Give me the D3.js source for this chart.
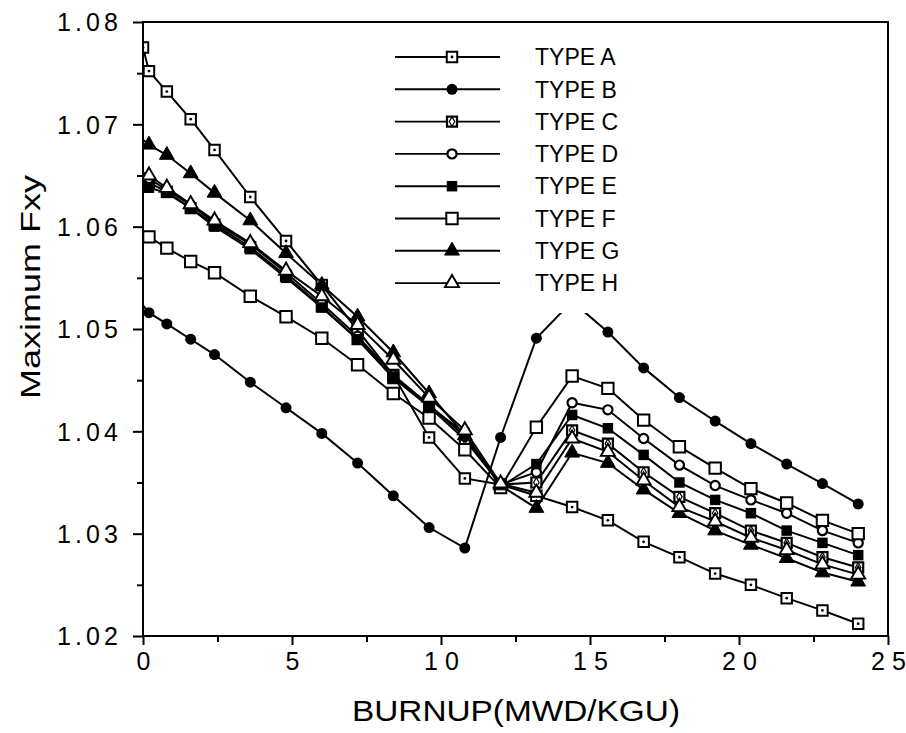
<!DOCTYPE html>
<html><head><meta charset="utf-8">
<script src="https://cdn.jsdelivr.net/npm/d3@7"></script>
<style>body{margin:0;background:#fff} svg{display:block}</style>
</head><body>
<svg id="chart" width="906" height="733"></svg>
<script>
// ---------- data ----------
const burnup = [0,0.2,0.8,1.6,2.4,3.6,4.8,6.0,7.2,8.4,9.6,10.8,12.0,13.2,14.4,15.6,16.8,18.0,19.2,20.4,21.6,22.8,24.0];
const typeA = [1.0775,1.0752,1.0732,1.0705,1.0675,1.0629,1.0586,1.0543,1.0499,1.0455,1.0394,1.0354,1.0348,1.0337,1.0326,1.0313,1.0292,1.0277,1.0261,1.0250,1.0237,1.0225,1.0212];
const typeB = [1.0523,1.0516,1.0505,1.0490,1.0475,1.0448,1.0423,1.0398,1.0369,1.0337,1.0306,1.0286,1.0394,1.0491,1.0527,1.0497,1.0462,1.0433,1.0410,1.0388,1.0368,1.0349,1.0329];
const typeC = [1.0647,1.0643,1.0634,1.0618,1.0602,1.0580,1.0552,1.0522,1.0490,1.0452,1.0424,1.0392,1.0348,1.0350,1.0401,1.0388,1.0360,1.0336,1.0320,1.0303,1.0291,1.0277,1.0267];
const typeD = [1.0650,1.0647,1.0636,1.0621,1.0604,1.0583,1.0555,1.0525,1.0493,1.0455,1.0426,1.0395,1.0348,1.0360,1.0428,1.0421,1.0393,1.0367,1.0347,1.0333,1.0320,1.0303,1.0291];
const typeE = [1.0642,1.0638,1.0633,1.0618,1.0600,1.0578,1.0550,1.0521,1.0490,1.0453,1.0425,1.0398,1.0346,1.0368,1.0416,1.0403,1.0377,1.0350,1.0333,1.0320,1.0303,1.0291,1.0279];
const typeF = [1.0593,1.0590,1.0579,1.0566,1.0555,1.0532,1.0512,1.0491,1.0465,1.0437,1.0413,1.0382,1.0345,1.0404,1.0454,1.0442,1.0411,1.0385,1.0364,1.0344,1.0330,1.0313,1.0300];
const typeG = [1.0685,1.0680,1.0670,1.0652,1.0633,1.0606,1.0574,1.0543,1.0512,1.0477,1.0437,1.0396,1.0347,1.0325,1.0379,1.0369,1.0343,1.0320,1.0303,1.0289,1.0276,1.0262,1.0253];
const typeH = [1.0653,1.0650,1.0638,1.0622,1.0606,1.0584,1.0557,1.0532,1.0504,1.0470,1.0433,1.0401,1.0349,1.0340,1.0393,1.0380,1.0352,1.0326,1.0312,1.0296,1.0284,1.0270,1.0260];
const seriesNames = ["TYPE A","TYPE B","TYPE C","TYPE D","TYPE E","TYPE F","TYPE G","TYPE H"];
const seriesMarkers = ["sqdot","dotFilled","sqring","circleOpen","sqFilled","sqOpen","triFilled","triOpen"];
const markerAtZero = [true,false,false,false,false,false,false,false];
const xTicks = [0,5,10,15,20,25];
const xMinorTicks = [2.5,7.5,12.5,17.5,22.5];
const yTicks = [1.02,1.03,1.04,1.05,1.06,1.07,1.08];
const yMinorTicks = [1.025,1.035,1.045,1.055,1.065,1.075];
const xTitle = "BURNUP(MWD/KGU)";
const yTitle = "Maximum Fxy";

const seriesValues = [typeA,typeB,typeC,typeD,typeE,typeF,typeG,typeH];
const series = seriesNames.map((n,i)=>({name:n, marker:seriesMarkers[i], zero:markerAtZero[i],
  points: burnup.map((b,j)=>({x:b, y:seriesValues[i][j]}))}));

// ---------- layout ----------
const svg = d3.select("#chart");
const L = 143, R = 888, T = 22, B = 636;
const x = d3.scaleLinear().domain([0,25]).range([L,R]);
const y = d3.scaleLinear().domain([1.02,1.08]).range([B,T]);
const FONT = "'Liberation Sans', Arial, Helvetica, sans-serif";

svg.append("rect").attr("width",906).attr("height",733).attr("fill","#fff");

svg.append("defs").append("clipPath").attr("id","plotClip")
  .append("rect").attr("x",L).attr("y",T).attr("width",R-L).attr("height",B-T);

// ---------- axes ----------
const yAxisMajor = d3.axisLeft(y).tickValues(yTicks).tickSize(10).tickPadding(14)
  .tickFormat(d3.format(".2f"));
const gy = svg.append("g").attr("transform",`translate(${L},0)`).call(yAxisMajor);
gy.select(".domain").remove();
gy.selectAll(".tick line").attr("stroke","#000").attr("stroke-width",2);
gy.selectAll(".tick text").attr("font-family",FONT).attr("font-size",25).attr("fill","#000")
  .attr("textLength",61).attr("lengthAdjust","spacing").attr("x",-25).attr("dy","0.35em");

const gym = svg.append("g").attr("transform",`translate(${L},0)`)
  .call(d3.axisLeft(y).tickValues(yMinorTicks).tickSize(6).tickFormat(""));
gym.select(".domain").remove();
gym.selectAll(".tick line").attr("stroke","#000").attr("stroke-width",2);

const gx = svg.append("g").attr("transform",`translate(0,${B})`)
  .call(d3.axisBottom(x).tickValues(xTicks).tickSize(9).tickPadding(14).tickFormat(d=>String(d)));
gx.select(".domain").remove();
gx.selectAll(".tick line").attr("stroke","#000").attr("stroke-width",2);
gx.selectAll(".tick text").attr("font-family",FONT).attr("font-size",25).attr("fill","#000")
  .each(function(d){ if(String(d).length>1) d3.select(this).attr("textLength",35).attr("lengthAdjust","spacing"); })
  .attr("y",16).attr("dy","0.71em");

const gxm = svg.append("g").attr("transform",`translate(0,${B})`)
  .call(d3.axisBottom(x).tickValues(xMinorTicks).tickSize(6).tickFormat(""));
gxm.select(".domain").remove();
gxm.selectAll(".tick line").attr("stroke","#000").attr("stroke-width",2);

// ---------- series ----------
const plot = svg.append("g").attr("clip-path","url(#plotClip)");
const line = d3.line().x(d=>x(d.x)).y(d=>y(d.y));
plot.selectAll("path.series").data(series).join("path").attr("class","series")
  .attr("d",d=>line(d.points)).attr("fill","none").attr("stroke","#000").attr("stroke-width",2);

function drawMarker(g, type){
  const sym = (t,s)=>d3.symbol().type(t).size(s)();
  switch(type){
    case "sqdot":
      g.append("path").attr("d",sym(d3.symbolSquare,110)).attr("fill","#fff").attr("stroke","#000").attr("stroke-width",2);
      g.append("circle").attr("r",1.4).attr("fill","#000"); break;
    case "dotFilled":
      g.append("circle").attr("r",5.5).attr("fill","#000"); break;
    case "sqring":
      g.append("path").attr("d",sym(d3.symbolSquare,100)).attr("fill","#fff").attr("stroke","#000").attr("stroke-width",2.2);
      g.append("path").attr("d",sym(d3.symbolDiamond,26)).attr("fill","#fff").attr("stroke","#000").attr("stroke-width",1.2); break;
    case "circleOpen":
      g.append("circle").attr("r",4.6).attr("fill","#fff").attr("stroke","#000").attr("stroke-width",2.2); break;
    case "sqFilled":
      g.append("path").attr("d",sym(d3.symbolSquare,110)).attr("fill","#000"); break;
    case "sqOpen":
      g.append("path").attr("d",sym(d3.symbolSquare,130)).attr("fill","#fff").attr("stroke","#000").attr("stroke-width",2); break;
    case "triFilled":
      g.append("path").attr("d",sym(d3.symbolTriangle,95)).attr("fill","#000").attr("stroke","#000").attr("stroke-width",1); break;
    case "triOpen":
      g.append("path").attr("d",sym(d3.symbolTriangle,85)).attr("fill","#fff").attr("stroke","#000").attr("stroke-width",1.9); break;
  }
}

series.forEach(s=>{
  plot.append("g").selectAll("g").data(s.points.filter(p=>p.x>0 || s.zero)).join("g")
    .attr("transform",d=>`translate(${x(d.x)},${y(d.y)})`)
    .each(function(){ drawMarker(d3.select(this), s.marker); });
});

// ---------- frame ----------
svg.append("rect").attr("x",L).attr("y",T).attr("width",R-L).attr("height",B-T)
  .attr("fill","none").attr("stroke","#000").attr("stroke-width",2);

// ---------- legend ----------
const leg = svg.append("g");
leg.append("rect").attr("x",392).attr("y",36).attr("width",240).attr("height",277).attr("fill","#fff");
const legY = i => 57 + i*32.3;
series.forEach((s,i)=>{
  leg.append("line").attr("x1",395).attr("x2",500).attr("y1",legY(i)).attr("y2",legY(i))
    .attr("stroke","#000").attr("stroke-width",1.9);
  const g = leg.append("g").attr("transform",`translate(452,${legY(i)})`);
  drawMarker(g, s.marker);
  leg.append("text").attr("x",535).attr("y",legY(i)).attr("dy","0.36em")
    .attr("font-family",FONT).attr("font-size",23).attr("fill","#000").text(s.name);
});

// ---------- titles ----------
svg.append("text").attr("x",516).attr("y",721).attr("text-anchor","middle")
  .attr("font-family",FONT).attr("font-size",29).attr("fill","#000")
  .attr("textLength",328).attr("lengthAdjust","spacingAndGlyphs").text(xTitle);
svg.append("text").attr("transform","translate(40,287) rotate(-90)").attr("text-anchor","middle")
  .attr("font-family",FONT).attr("font-size",28).attr("fill","#000")
  .attr("textLength",224).attr("lengthAdjust","spacingAndGlyphs").text(yTitle);
</script>
</body></html>
